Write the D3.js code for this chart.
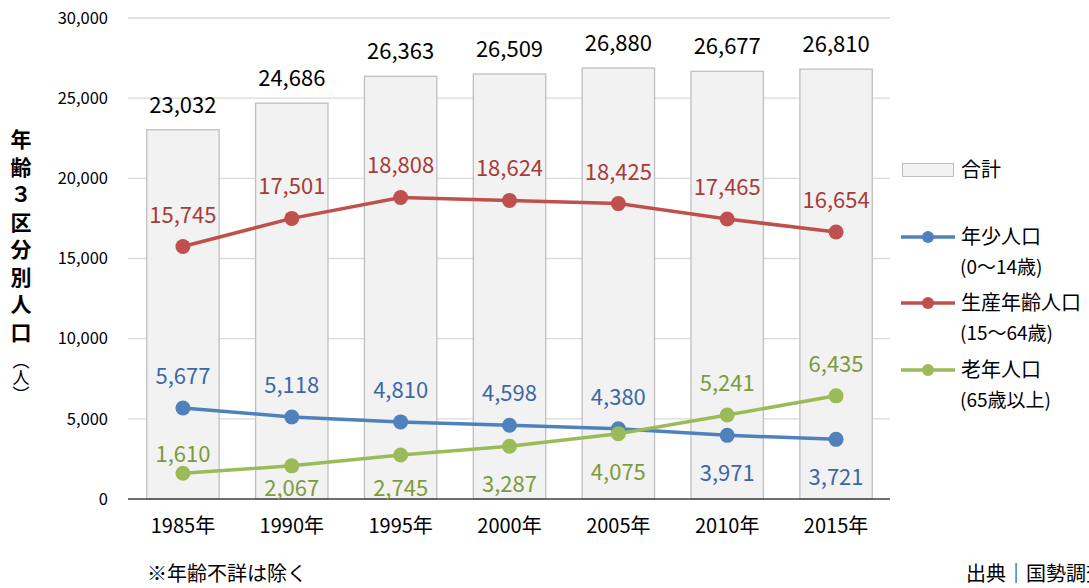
<!DOCTYPE html>
<html>
<head>
<meta charset="utf-8">
<script src="https://cdn.jsdelivr.net/npm/d3@7"></script>
<style>
  body { margin: 0; background: #fff; }
  svg { font-family: "Noto Sans CJK JP", "Noto Sans", sans-serif; }
</style>
</head>
<body>
<div id="chart"></div>
<script>
// data
let years = ["1985年", "1990年", "1995年", "2000年", "2005年", "2010年", "2015年"]
let total = [23032, 24686, 26363, 26509, 26880, 26677, 26810]
let young = [5677, 5118, 4810, 4598, 4380, 3971, 3721]
let working = [15745, 17501, 18808, 18624, 18425, 17465, 16654]
let old = [1610, 2067, 2745, 3287, 4075, 5241, 6435]
let yTicks = [0, 5000, 10000, 15000, 20000, 25000, 30000]

let W = 1089, H = 588
let svg = d3.select("#chart").append("svg")
  .attr("width", W)
  .attr("height", H)

let x = d3.scaleBand().domain(years).range([128.5, 890.5]).paddingInner(0.335).paddingOuter(0.1675)
let y = d3.scaleLinear().domain([0, 30000]).range([499, 18])
let cx = d => x(d) + x.bandwidth() / 2
let fmt = d3.format(",")

// gridlines
svg.append("g")
  .selectAll("line")
  .data(yTicks.slice(1))
  .enter()
  .append("line")
  .attr("x1", 128).attr("x2", 890)
  .attr("y1", d => y(d)).attr("y2", d => y(d))
  .attr("stroke", "#d9d9d9")
  .attr("stroke-width", 1.3)

// y tick labels
let yAxis = svg.append("g")
  .attr("transform", "translate(128,0)")
  .call(d3.axisLeft(y).tickValues(yTicks).tickFormat(fmt).tickSize(0).tickPadding(20))
yAxis.select(".domain").remove()
yAxis.selectAll("text")
  .attr("font-size", 16.5)
  .attr("fill", "#000")
  .attr("font-family", "Noto Sans CJK JP")

// bars (total)
svg.append("g")
  .selectAll("rect")
  .data(total)
  .enter()
  .append("rect")
  .attr("x", (d, i) => x(years[i]))
  .attr("y", d => y(d))
  .attr("width", x.bandwidth())
  .attr("height", d => y(0) - y(d))
  .attr("fill", "#f2f2f2")
  .attr("stroke", "#bfbfbf")
  .attr("stroke-width", 1.3)

svg.append("g")
  .selectAll("text")
  .data(total)
  .enter()
  .append("text")
  .attr("x", (d, i) => cx(years[i]))
  .attr("y", d => y(d) - 17)
  .attr("text-anchor", "middle")
  .attr("font-size", 22)
  .attr("fill", "#000")
  .text(fmt)

// baseline
svg.append("line")
  .attr("x1", 128).attr("x2", 890)
  .attr("y1", y(0)).attr("y2", y(0))
  .attr("stroke", "#404040")
  .attr("stroke-width", 1.5)

// x axis labels
let xAxis = svg.append("g")
  .attr("transform", "translate(0," + y(0) + ")")
  .call(d3.axisBottom(x).tickSize(0).tickPadding(20))
xAxis.select(".domain").remove()
xAxis.selectAll("text")
  .attr("font-size", 20)
  .attr("fill", "#000")
  .attr("font-family", "Noto Sans CJK JP")

// line series
let series = [
  { name: "年少人口", sub: "(0〜14歳)", values: young, line: "#4f81bd", label: "#3d68a8",
    place: ["a", "a", "a", "a", "a", "b", "b"] },
  { name: "生産年齢人口", sub: "(15〜64歳)", values: working, line: "#c0504d", label: "#a63c3a",
    place: ["a", "a", "a", "a", "a", "a", "a"] },
  { name: "老年人口", sub: "(65歳以上)", values: old, line: "#9bbb59", label: "#7c9a3e",
    place: ["n", "b", "b", "b", "b", "a", "a"] }
]

let line = d3.line()
  .x((d, i) => cx(years[i]))
  .y(d => y(d))

function labelY(v, p) {
  if (p == "a") return y(v) - 24
  if (p == "n") return y(v) - 11
  return Math.min(y(v) + 46, 496)
}

series.forEach(s => {
  let g = svg.append("g")
  g.append("path")
    .datum(s.values)
    .attr("d", line)
    .attr("fill", "none")
    .attr("stroke", s.line)
    .attr("stroke-width", 3.5)
  g.selectAll("circle")
    .data(s.values)
    .enter()
    .append("circle")
    .attr("cx", (d, i) => cx(years[i]))
    .attr("cy", d => y(d))
    .attr("r", 7.5)
    .attr("fill", s.line)
})

// labels on top of all lines
series.forEach(s => {
  svg.append("g")
    .selectAll("text")
    .data(s.values)
    .enter()
    .append("text")
    .attr("x", (d, i) => cx(years[i]))
    .attr("y", (d, i) => labelY(d, s.place[i]))
    .attr("text-anchor", "middle")
    .attr("font-size", 22)
    .attr("fill", s.label)
    .text(fmt)
})

// legend
let lg = svg.append("g")
lg.append("rect")
  .attr("x", 902.5).attr("y", 163.5)
  .attr("width", 51).attr("height", 13)
  .attr("fill", "#f2f2f2")
  .attr("stroke", "#bfbfbf")
lg.append("text")
  .attr("x", 961).attr("y", 177)
  .attr("font-size", 20)
  .text("合計")

let legendY = [237, 303, 370]
series.forEach((s, i) => {
  let ly = legendY[i]
  lg.append("line")
    .attr("x1", 901).attr("x2", 955)
    .attr("y1", ly).attr("y2", ly)
    .attr("stroke", s.line)
    .attr("stroke-width", 3.5)
  lg.append("circle")
    .attr("cx", 928).attr("cy", ly).attr("r", 6)
    .attr("fill", s.line)
  lg.append("text")
    .attr("x", 961).attr("y", ly + 7)
    .attr("font-size", 20)
    .text(s.name)
  lg.append("text")
    .attr("x", 960).attr("y", ly + 37)
    .attr("font-size", 19)
    .text(s.sub)
})

// y axis title (vertical)
svg.append("text")
  .attr("x", 21).attr("y", 129)
  .style("writing-mode", "vertical-rl")
  .attr("font-size", 21)
  .attr("font-weight", "bold")
  .attr("letter-spacing", 6.5)
  .text("年齢３区分別人口")
svg.append("text")
  .attr("x", 21).attr("y", 352)
  .style("writing-mode", "vertical-rl")
  .attr("font-size", 17)
  .text("（人）")

// notes
svg.append("text")
  .attr("x", 147).attr("y", 581)
  .attr("font-size", 20)
  .text("※年齢不詳は除く")
svg.append("text")
  .attr("x", 966).attr("y", 581)
  .attr("font-size", 20)
  .text("出典｜国勢調査")
</script>
</body>
</html>
